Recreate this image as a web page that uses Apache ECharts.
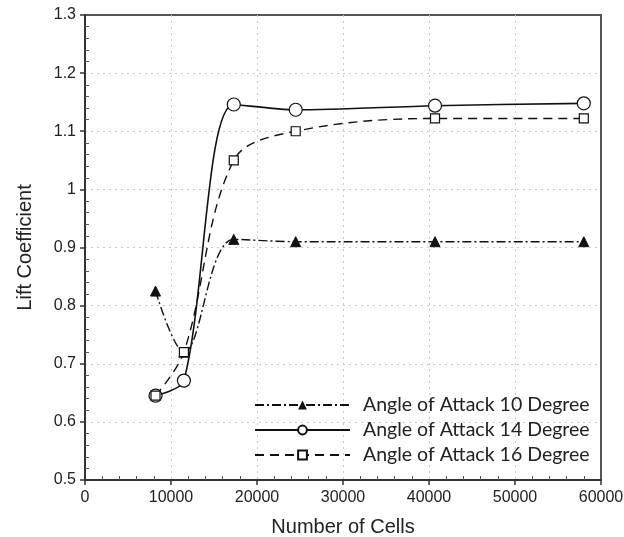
<!DOCTYPE html>
<html>
<head>
<meta charset="utf-8">
<script src="https://cdn.jsdelivr.net/npm/echarts@6/dist/echarts.min.js"></script>
<style>html,body{margin:0;padding:0;background:#fff;}#c{width:624px;height:537px;}</style>
</head>
<body>
<div id="c"></div>
<script>
var cells = [8200, 11500, 17300, 24500, 40700, 58000];
var aoa10 = [0.825, 0.72, 0.914, 0.91, 0.91, 0.91];
var aoa14 = [0.645, 0.671, 1.146, 1.137, 1.144, 1.148];
var aoa16 = [0.645, 0.72, 1.05, 1.10, 1.122, 1.122];
var seriesNames = ['Angle of Attack 10 Degree', 'Angle of Attack 14 Degree', 'Angle of Attack 16 Degree'];
var xTicks = [0, 10000, 20000, 30000, 40000, 50000, 60000];

function pairs(xs, ys) { return xs.map(function (x, i) { return [x, ys[i]]; }); }

var chart = echarts.init(document.getElementById('c'));
var labelFont = { fontFamily: 'Liberation Sans', fontSize: 16, color: '#222' };
chart.setOption({
  animation: false,
  backgroundColor: '#fff',
  grid: { left: 85, right: 23, top: 15, bottom: 57, show: true, borderColor: '#555', borderWidth: 2,
          outerBoundsMode: 'none', containLabel: false },
  legend: {
    orient: 'vertical', left: 249, top: 390, itemWidth: 95, itemHeight: 11, itemGap: 5,
    textStyle: { fontFamily: 'Lato', fontSize: 19.5, color: '#222', padding: [0, 0, 0, 8] },
    data: seriesNames
  },
  xAxis: [{
    type: 'value', min: 0, max: 60000, interval: 10000,
    name: 'Number of Cells', nameLocation: 'middle', nameGap: 37,
    nameTextStyle: { fontFamily: 'Liberation Sans', fontSize: 20, color: '#222' },
    axisLine: { show: true, onZero: false, lineStyle: { color: '#333', width: 2 } },
    axisTick: { show: true, inside: false, length: 5, lineStyle: { color: '#333', width: 1.5 } },
    axisLabel: Object.assign({ margin: 10, formatter: function (v) { return xTicks.indexOf(v) >= 0 ? String(v) : ''; } }, labelFont),
    splitLine: { show: true, showMinLine: false, showMaxLine: false, lineStyle: { color: '#c8c8c8', type: [2, 4], width: 1 } }
  }, {
    type: 'value', min: 0, max: 60000, interval: 10000, position: 'bottom',
    axisLine: { show: false }, axisLabel: { show: false }, splitLine: { show: false },
    axisTick: { show: false, inside: true },
    minorTick: { show: true, splitNumber: 5, length: 4, lineStyle: { color: '#555', width: 1 } }
  }],
  yAxis: [{
    type: 'value', min: 0.5, max: 1.3, interval: 0.1,
    name: 'Lift Coefficient', nameLocation: 'middle', nameGap: 50,
    nameTextStyle: { fontFamily: 'Liberation Sans', fontSize: 20, color: '#222' },
    axisLine: { show: true, onZero: false, lineStyle: { color: '#333', width: 2 } },
    axisTick: { show: true, inside: false, length: 5, lineStyle: { color: '#333', width: 1.5 } },
    axisLabel: Object.assign({ margin: 9, formatter: function (v) { return String(Math.round(v * 10) / 10); } }, labelFont),
    splitLine: { show: true, showMinLine: false, showMaxLine: false, lineStyle: { color: '#c8c8c8', type: [2, 4], width: 1 } }
  }, {
    type: 'value', min: 0.5, max: 1.3, interval: 0.1, position: 'left',
    axisLine: { show: false }, axisLabel: { show: false }, splitLine: { show: false },
    axisTick: { show: false, inside: true },
    minorTick: { show: true, splitNumber: 5, length: 4, lineStyle: { color: '#555', width: 1 } }
  }],
  series: [{
    name: seriesNames[0], type: 'line', data: pairs(cells, aoa10), smooth: 0.35,
    symbol: 'triangle', symbolSize: 10,
    itemStyle: { color: '#111', borderColor: '#111' },
    lineStyle: { color: '#111', width: 1.4, type: [9, 3, 2, 3] }
  }, {
    name: seriesNames[1], type: 'line', data: pairs(cells, aoa14), smooth: 0.3,
    symbol: 'circle', symbolSize: 13,
    itemStyle: { color: '#fff', borderColor: '#111', borderWidth: 1.2 },
    lineStyle: { color: '#111', width: 1.6, type: 'solid' }
  }, {
    name: seriesNames[2], type: 'line', data: pairs(cells, aoa16), smooth: 0.35,
    symbol: 'rect', symbolSize: 9,
    itemStyle: { color: '#fff', borderColor: '#111', borderWidth: 1.2 },
    lineStyle: { color: '#111', width: 1.4, type: [9, 6] }
  }]
});
</script>
</body>
</html>
